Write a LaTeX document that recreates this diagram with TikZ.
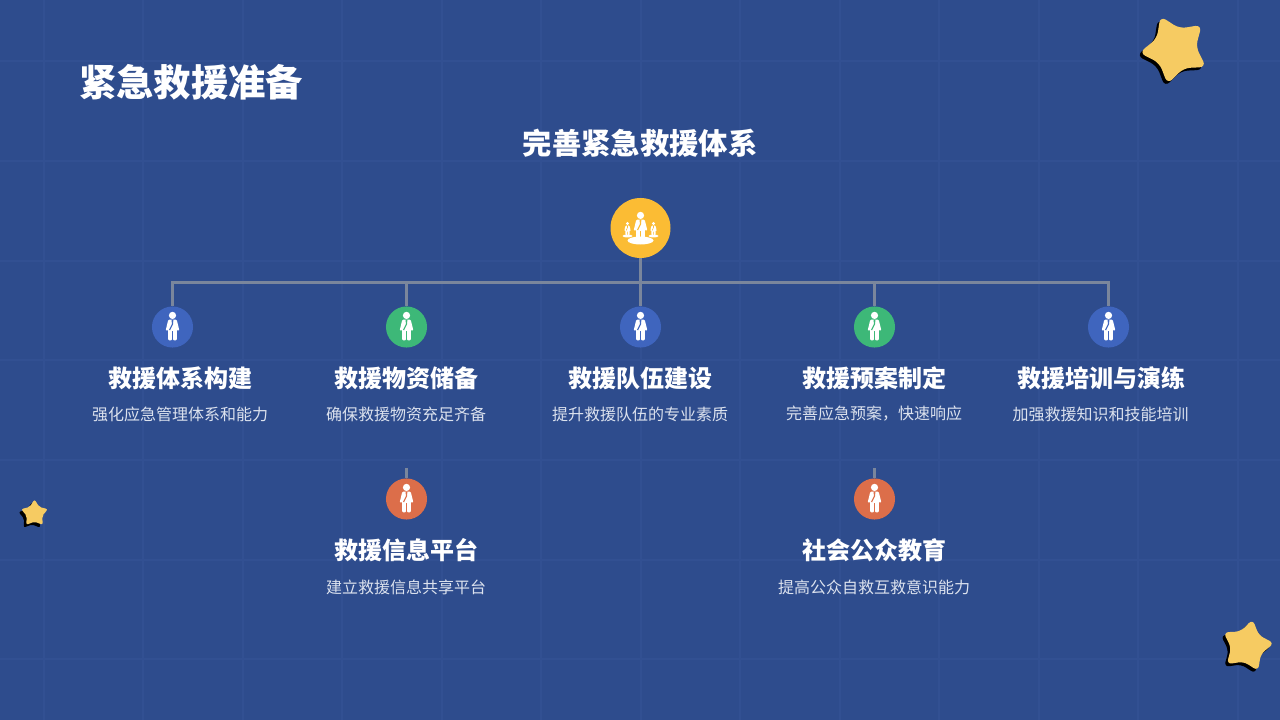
\documentclass[tikz,border=0pt]{standalone}
\usepackage{fontspec}
\setmainfont{Noto Sans CJK SC}
\usetikzlibrary{shapes.geometric,calc}
\definecolor{bgblue}{RGB}{46,76,141}
\definecolor{gridblue}{RGB}{50,80,146}
\definecolor{linkgray}{RGB}{122,134,156}
\definecolor{starfill}{RGB}{246,203,98}
\definecolor{rootfill}{RGB}{251,188,52}
\definecolor{blueicon}{RGB}{63,101,190}
\definecolor{greenicon}{RGB}{61,184,120}
\definecolor{orangeicon}{RGB}{220,110,74}
\definecolor{desctext}{RGB}{220,226,238}
\tikzset{
  gridln/.style={line width=2pt, gridblue},
  linkln/.style={line width=2.5pt, linkgray, line join=miter},
  iconbg/.style={circle, inner sep=0pt, minimum size=30.8pt},
  titletext/.style={white, font=\bfseries\fontsize{28}{30}\selectfont},
  headtext/.style={white, font=\bfseries\fontsize{22}{26}\selectfont},
  itemtext/.style={white, font=\bfseries\fontsize{18}{22}\selectfont},
  desctxt/.style={desctext, font=\fontsize{12}{15}\selectfont},
  starbase/.style={star, star points=5, star point ratio=1.72, inner sep=0pt},
}
% person figure, #1 = centre, #2 = scale, #3 = colour of the tie
\newcommand{\personicon}[3]{%
  \begin{scope}[shift={#1}, scale=#2]
    \fill[white] (0,-12.2) circle (3.8);
    \fill[white, rounded corners=0.8pt] (-4.4,-7.8) -- (4.4,-7.8) -- (7.2,3.6) -- (4.9,4.2) -- (4.5,1)
      -- (4.5,14.2) -- (0.6,14.2) -- (0.6,3.4) -- (-0.6,3.4) -- (-0.6,14.2) -- (-4.5,14.2) -- (-4.5,1)
      -- (-4.9,4.2) -- (-7.2,3.6) -- cycle;
    \fill[#3] (-0.9,-7.8) -- (0.9,-7.8) -- (0.6,-3) -- (-2.6,3.6) -- (-3.6,2.8) -- (-0.7,-3) -- cycle;
  \end{scope}
}
% rounded star with its black shadow, #5 = corner radius
\newcommand{\starmark}[5]{%
  \node[starbase, rounded corners=#5, fill=black, minimum size=#2, rotate=#3] (#4s) at ($#1+(-2.6,2.8)$) {};
  \node[starbase, rounded corners=#5, fill=starfill, minimum size=#2, rotate=#3] (#4) at #1 {};
}
\begin{document}
\begin{tikzpicture}[x=0.75pt, y=-0.75pt]
  \useasboundingbox (0,0) rectangle (1280,720);
  \fill[bgblue] (0,0) rectangle (1280,720);
  % background grid
  \foreach \gxpos in {44,143,243,342,442,541,641,740,840,939,1039,1138,1238}
    \draw[gridln] (\gxpos,0) -- (\gxpos,720);
  \foreach \gypos in {61,161,261,360,460,560,659}
    \draw[gridln] (0,\gypos) -- (1280,\gypos);
  % stars
  \starmark{(1175,49)}{54pt}{24}{starbig}{5pt}
  \starmark{(1247,646)}{41pt}{-12}{starlow}{4pt}
  \starmark{(34.5,513.5)}{21pt}{0}{starsmall}{1.5pt}
  % titles
  \node[titletext] (title) at (191,82) {紧急救援准备};
  \node[headtext] (head) at (640,143) {完善紧急救援体系};
  % icons
  \node[iconbg, minimum size=45pt, fill=rootfill] (root) at (640.5,228) {};
  \node[iconbg, fill=blueicon] (cira) at (172.5,327) {};
  \node[iconbg, fill=greenicon] (cirb) at (406.5,327) {};
  \node[iconbg, fill=blueicon] (circ) at (640.5,327) {};
  \node[iconbg, fill=greenicon] (cird) at (874.5,327) {};
  \node[iconbg, fill=blueicon] (cire) at (1108.5,327) {};
  \node[iconbg, fill=orangeicon] (cirf) at (406.5,499) {};
  \node[iconbg, fill=orangeicon] (cirg) at (874.5,499) {};
  % connectors
  \coordinate (busa) at (172.5,282.5);
  \coordinate (busb) at (406.5,282.5);
  \coordinate (busc) at (640.5,282.5);
  \coordinate (busd) at (874.5,282.5);
  \coordinate (buse) at (1108.5,282.5);
  \coordinate (stubf) at (406.5,468);
  \coordinate (stubg) at (874.5,468);
  \draw[linkln] (cira) -- (busa) -- (buse) -- (cire);
  \draw[linkln] (root) -- (circ);
  \draw[linkln] (busb) -- (cirb);
  \draw[linkln] (busd) -- (cird);
  \draw[linkln] (stubf) -- (cirf);
  \draw[linkln] (stubg) -- (cirg);
  % figures
  \personicon{(172.5,327)}{0.95}{blueicon}
  \personicon{(406.5,327)}{0.95}{greenicon}
  \personicon{(640.5,327)}{0.95}{blueicon}
  \personicon{(874.5,327)}{0.95}{greenicon}
  \personicon{(1108.5,327)}{0.95}{blueicon}
  \personicon{(406.5,499)}{0.95}{orangeicon}
  \personicon{(874.5,499)}{0.95}{orangeicon}
  % figures on the root icon
  \fill[white] (640.5,240.5) ellipse (13 and 4);
  \personicon{(640.5,227)}{0.95}{rootfill}
  \fill[white] (627.5,236) ellipse (5 and 1.5);
  \fill[white] (653.5,236) ellipse (5 and 1.5);
  \personicon{(627.5,229)}{0.45}{rootfill}
  \personicon{(653.5,229)}{0.45}{rootfill}
  % item texts
  \node[itemtext] (itema) at (180,378) {救援体系构建};
  \node[desctxt] (desca) at (180,414) {强化应急管理体系和能力};
  \node[itemtext] (itemb) at (406,378) {救援物资储备};
  \node[desctxt] (descb) at (406,414) {确保救援物资充足齐备};
  \node[itemtext] (itemc) at (640,378) {救援队伍建设};
  \node[desctxt] (descc) at (640,414) {提升救援队伍的专业素质};
  \node[itemtext] (itemd) at (874,378) {救援预案制定};
  \node[desctxt] (descd) at (874,414) {完善应急预案，快速响应};
  \node[itemtext] (iteme) at (1101,378) {救援培训与演练};
  \node[desctxt] (desce) at (1100.5,414) {加强救援知识和技能培训};
  \node[itemtext] (itemf) at (406,550) {救援信息平台};
  \node[desctxt] (descf) at (406,587) {建立救援信息共享平台};
  \node[itemtext] (itemg) at (874,550) {社会公众教育};
  \node[desctxt] (descg) at (874,587) {提高公众自救互救意识能力};
\end{tikzpicture}
\end{document}
